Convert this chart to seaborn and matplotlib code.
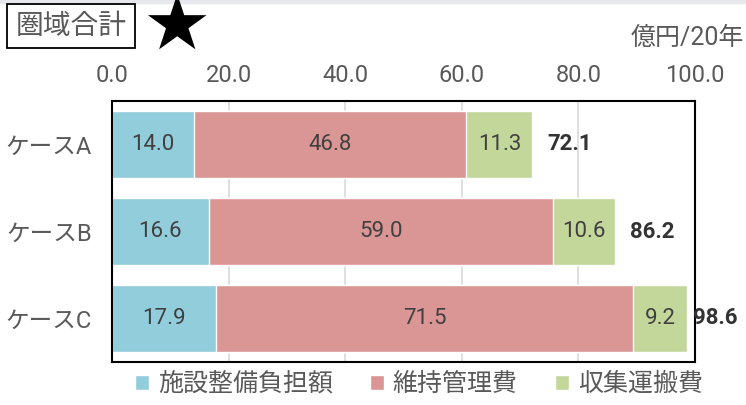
import numpy as np
import pandas as pd
import matplotlib
matplotlib.use("Agg")
import matplotlib.pyplot as plt
from matplotlib.patches import Rectangle
import seaborn as sns

sns.set_theme(style="white")
plt.rcParams["font.family"] = ["Roboto", "Noto Sans CJK JP", "DejaVu Sans"]

# data
cases = ["ケースA", "ケースB", "ケースC"]
series = ["施設整備負担額", "維持管理費", "収集運搬費"]
facility = [14.0, 16.6, 17.9]
maintenance = [46.8, 59.0, 71.5]
transport = [11.3, 10.6, 9.2]
totals = [72.1, 86.2, 98.6]
xticks = [0, 20, 40, 60, 80, 100]

colors = ["#92CDDC", "#DA9694", "#C4D79B"]
gray = "#595959"

df = pd.DataFrame({"case": cases, series[0]: facility, series[1]: maintenance, series[2]: transport})
df["c1"] = df[series[0]]
df["c2"] = df["c1"] + df[series[1]]
df["c3"] = df["c2"] + df[series[2]]

fig = plt.figure(figsize=(7.46, 4.05), dpi=100)
ax = fig.add_axes([112 / 746, 1 - 362 / 405, (695 - 112) / 746, (362 - 101) / 405])

# stacked bars: draw cumulative totals back to front
for col, c, name in [("c3", colors[2], series[2]), ("c2", colors[1], series[1]), ("c1", colors[0], series[0])]:
    sns.barplot(data=df, x=col, y="case", orient="h", color=c, width=0.77,
                saturation=1, ax=ax, label=name)
handles, labels = ax.get_legend_handles_labels()
if ax.get_legend() is not None:
    ax.get_legend().remove()

# segment labels
for i, row in df.iterrows():
    starts = [0, row["c1"], row["c2"]]
    vals = [row[series[0]], row[series[1]], row[series[2]]]
    for s, v in zip(starts, vals):
        ax.text(s + v / 2, i, f"{v:.1f}", ha="center", va="center", fontsize=16, color="#404040")
    # totals sit right of the bar, squeezed in when near the edge
    tx = min(row["c3"] + 2.6, 99.6)
    ax.text(tx, i, f"{totals[i]:.1f}", ha="left", va="center", fontsize=16,
            color="#333333", fontweight="bold", clip_on=False)

ax.set_xlim(0, 100)
ax.set_ylim(2.5, -0.5)
ax.set_xticks(xticks)
ax.set_xticklabels([f"{t:.1f}" for t in xticks])
ax.xaxis.tick_top()
ax.tick_params(axis="x", length=0, pad=10, labelsize=17, labelcolor=gray)
ax.tick_params(axis="y", length=0, pad=14.5, labelsize=17, labelcolor=gray)
ax.set_xlabel("")
ax.set_ylabel("")
ax.grid(axis="x", color="#D9D9D9", linewidth=1.2)
ax.set_axisbelow(True)
for sp in ax.spines.values():
    sp.set_color("black")
    sp.set_linewidth(1.5)

# legend in original series order
order = [labels.index(s) for s in series]
fig.legend([handles[k] for k in order], series, loc="center", bbox_to_anchor=(419 / 746, 1 - 384 / 405),
           ncol=3, frameon=False, fontsize=18, labelcolor=gray, handlelength=0.55, handleheight=0.55,
           handletextpad=0.35, columnspacing=1.5, borderaxespad=0)

# header band, title box, star, unit
fig.patches.append(Rectangle((0, 1 - 3 / 405), 1, 3 / 405, transform=fig.transFigure,
                             color="#E6E8EE", zorder=0))
fig.text(71 / 746, 1 - 26 / 405, "圏域合計", ha="center", va="center", fontsize=20, color=gray,
         bbox=dict(boxstyle="square,pad=0.3", facecolor="white", edgecolor="black", linewidth=1.3))
fig.text(176 / 746, 1 - 29 / 405, "★", ha="center", va="center", fontsize=55, color="black",
         family=["DejaVu Sans"])
fig.text(744 / 746, 1 - 38 / 405, "億円/20年", ha="right", va="center", fontsize=18, color=gray)

fig.savefig("out.png", dpi=100)
